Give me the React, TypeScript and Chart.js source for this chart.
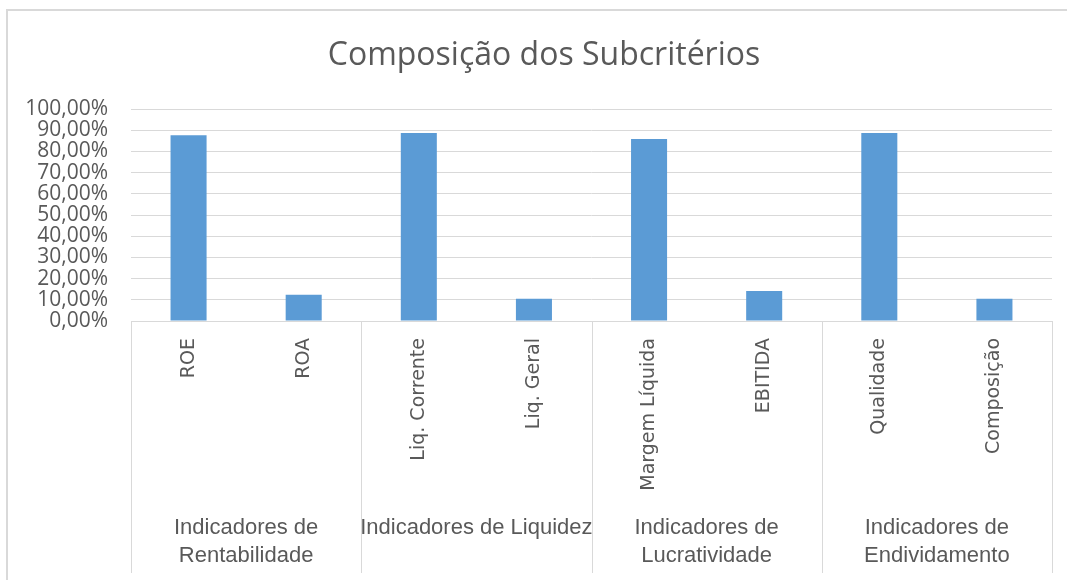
import React, { useEffect, useRef } from "react";
import { Chart, registerables } from "chart.js";

Chart.register(...registerables);

const categories = ["ROE", "ROA", "Liq. Corrente", "Liq. Geral", "Margem Líquida", "EBITIDA", "Qualidade", "Composição"];
const values = [0.876, 0.124, 0.887, 0.105, 0.859, 0.141, 0.887, 0.105];
const groupLabels = [
  ["Indicadores de", "Rentabilidade"],
  ["Indicadores de Liquidez"],
  ["Indicadores de", "Lucratividade"],
  ["Indicadores de", "Endividamento"],
];
const groupSize = 2;
const titleText = "Composição dos Subcritérios";

const GRID = "#d9d9d9";
const TEXT = "#595959";
const BAR = "#5B9BD5";

const fmtPct = (v: number) => (Math.round(v * 1000) / 10).toFixed(2).replace(".", ",") + "%";

const decorPlugin = {
  id: "decor",
  beforeDraw(chart: any) {
    const { ctx } = chart;
    ctx.save();
    ctx.fillStyle = "#ffffff";
    ctx.fillRect(0, 0, chart.width, chart.height);
    ctx.strokeStyle = GRID;
    ctx.lineWidth = 2;
    ctx.beginPath();
    ctx.moveTo(7, chart.height);
    ctx.lineTo(7, 10);
    ctx.lineTo(chart.width, 10);
    ctx.stroke();
    // chart title
    ctx.fillStyle = TEXT;
    ctx.font = '32px "Open Sans", sans-serif';
    ctx.textAlign = "center";
    ctx.textBaseline = "middle";
    ctx.fillText(titleText, 544, 56);
    ctx.restore();
  },
  afterDraw(chart: any) {
    const { ctx, chartArea } = chart;
    const x = chart.scales.x;
    const bottom = 573;
    ctx.save();
    ctx.strokeStyle = GRID;
    ctx.lineWidth = 1;
    const nGroups = groupLabels.length;
    const bounds: number[] = [];
    for (let g = 0; g <= nGroups; g++) {
      let px: number;
      if (g === 0) px = chartArea.left;
      else if (g === nGroups) px = chartArea.right;
      else px = (x.getPixelForValue(g * groupSize - 1) + x.getPixelForValue(g * groupSize)) / 2;
      bounds.push(px);
      ctx.beginPath();
      ctx.moveTo(Math.round(px) + 0.5, chartArea.bottom);
      ctx.lineTo(Math.round(px) + 0.5, bottom);
      ctx.stroke();
    }
    ctx.fillStyle = TEXT;
    ctx.font = '22px "Liberation Sans Narrow", "Arial Narrow", "Liberation Sans", sans-serif';
    ctx.textAlign = "center";
    ctx.textBaseline = "middle";
    groupLabels.forEach((lines, g) => {
      const cx = (bounds[g] + bounds[g + 1]) / 2;
      lines.forEach((ln, i) => {
        ctx.fillText(ln, cx, 528 + i * 28);
      });
    });
    ctx.restore();
  },
};

export default function App() {
  const ref = useRef<HTMLCanvasElement | null>(null);
  useEffect(() => {
    document.body.style.margin = "0";
    if (!ref.current) return;
    const chart = new Chart(ref.current, {
      type: "bar",
      data: {
        labels: categories,
        datasets: [
          {
            data: values,
            backgroundColor: BAR,
            borderWidth: 0,
            categoryPercentage: 1,
            barPercentage: 0.313,
          },
        ],
      },
      options: {
        animation: false,
        responsive: false,
        maintainAspectRatio: false,
        layout: { padding: { left: 8, right: 15, top: 109, bottom: 0 } },
        plugins: {
          legend: { display: false },
          tooltip: { enabled: false },
          title: { display: false },
        },
        scales: {
          x: {
            grid: { display: false, drawTicks: false },
            border: { display: true, color: GRID, width: 1 },
            ticks: {
              color: TEXT,
              font: { family: '"DejaVu Sans", sans-serif', size: 19 },
              minRotation: 90,
              maxRotation: 90,
              autoSkip: false,
              padding: 17,
            },
            afterFit(scale: any) {
              scale.height = 259;
            },
          },
          y: {
            min: 0,
            max: 1,
            grid: { color: GRID, drawTicks: false },
            border: { display: false },
            ticks: {
              stepSize: 0.1,
              autoSkip: false,
              color: TEXT,
              padding: 23,
              font: { family: '"Open Sans", sans-serif', size: 21 },
              callback: (v: any) => fmtPct(Number(v)),
            },
            afterFit(scale: any) {
              scale.width = 123;
            },
          },
        },
      },
      plugins: [decorPlugin],
    });
    return () => chart.destroy();
  }, []);
  return (
    <div style={{ width: 1067, height: 580 }}>
      <canvas ref={ref} width={1067} height={580} style={{ display: "block" }} />
    </div>
  );
}
